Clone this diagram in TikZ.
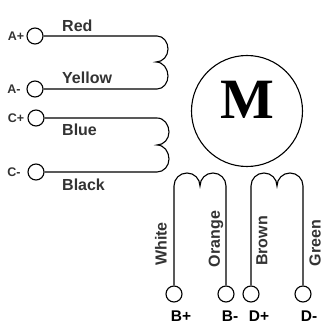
\documentclass[tikz,border=0pt]{standalone}
\usepackage{fontspec}
\setmainfont{Liberation Sans}
\newfontfamily\motorfont{Liberation Serif}
\definecolor{labelgray}{HTML}{333333}
\begin{document}
\begin{tikzpicture}
      [ x = 1pt, y = 1pt
      , terminal/.style =
        { draw, circle, minimum size = 16pt, inner sep = 0pt, line width = 1.1pt }
      , motor/.style =
        { draw, circle, minimum size = 111pt, inner sep = 0pt, line width = 1.1pt }
      , motorletter/.style =
        { font = \motorfont\bfseries\fontsize{57}{57}\selectfont, inner sep = 0pt }
      , wire/.style =
        { line width = 1.1pt }
      , wirelabel/.style =
        { font = \bfseries\fontsize{16}{16}\selectfont, text = labelgray, inner sep = 0pt }
      , sidepin/.style =
        { font = \bfseries\fontsize{12.5}{12.5}\selectfont, text = labelgray, inner sep = 0pt }
      , bottompin/.style =
        { font = \bfseries\fontsize{15.5}{15.5}\selectfont, inner sep = 0pt }
      ]
      \useasboundingbox (0, 0) rectangle (326, 327);
      % left terminals
      \node [terminal] (Ap) at (35, 291) {};
      \node [terminal] (Am) at (35, 238) {};
      \node [terminal] (Cp) at (36, 209) {};
      \node [terminal] (Cm) at (36, 155) {};
      % bottom terminals
      \node [terminal] (Bp) at (174, 33) {};
      \node [terminal] (Bm) at (226, 33) {};
      \node [terminal] (Dp) at (251, 33) {};
      \node [terminal] (Dm) at (303, 33) {};
      % motor
      \node [motor] (motor) at (247, 216) {};
      \node [motorletter] (motorM) at (247, 227) {M};
      % coil points
      \coordinate (a1) at (157, 291);
      \coordinate (a2) at (168, 278);
      \coordinate (a3) at (156, 265);
      \coordinate (a4) at (168, 251);
      \coordinate (a5) at (157, 238);
      \coordinate (c1) at (157, 209);
      \coordinate (c2) at (169, 195);
      \coordinate (c3) at (157, 182);
      \coordinate (c4) at (169, 168);
      \coordinate (c5) at (157, 155);
      \coordinate (b1) at (174, 141);
      \coordinate (b2) at (187, 154);
      \coordinate (b3) at (200, 141);
      \coordinate (b4) at (213, 154);
      \coordinate (b5) at (226, 141);
      \coordinate (d1) at (251, 141);
      \coordinate (d2) at (264, 154);
      \coordinate (d3) at (277, 141);
      \coordinate (d4) at (290, 154);
      \coordinate (d5) at (303, 141);
      % coils
      \draw [wire] (Ap) -- (a1) to [out=0,in=90] (a2) to [out=-90,in=0] (a3)
        to [out=0,in=90] (a4) to [out=-90,in=0] (a5) -- (Am);
      \draw [wire] (Cp) -- (c1) to [out=0,in=90] (c2) to [out=-90,in=0] (c3)
        to [out=0,in=90] (c4) to [out=-90,in=0] (c5) -- (Cm);
      \draw [wire] (Bp) -- (b1) to [out=90,in=180] (b2) to [out=0,in=90] (b3)
        to [out=90,in=180] (b4) to [out=0,in=90] (b5) -- (Bm);
      \draw [wire] (Dp) -- (d1) to [out=90,in=180] (d2) to [out=0,in=90] (d3)
        to [out=90,in=180] (d4) to [out=0,in=90] (d5) -- (Dm);
      % wire colours
      \node [wirelabel, anchor=west] (red) at (62, 301) {Red};
      \node [wirelabel, anchor=west] (yellow) at (62, 249) {Yellow};
      \node [wirelabel, anchor=west] (blue) at (62, 197) {Blue};
      \node [wirelabel, anchor=west] (black) at (62, 142) {Black};
      \node [wirelabel, rotate=90] (white) at (161, 83) {White};
      \node [wirelabel, rotate=90] (orange) at (216, 88) {Orange};
      \node [wirelabel, rotate=90] (brown) at (262, 86) {Brown};
      \node [wirelabel, rotate=90] (green) at (315, 84) {Green};
      % pin names
      \node [sidepin] (Aplabel) at (16, 291) {A+};
      \node [sidepin] (Amlabel) at (14, 238) {A-};
      \node [sidepin] (Cplabel) at (16, 209) {C+};
      \node [sidepin] (Cmlabel) at (14, 155) {C-};
      \node [bottompin] (Bplabel) at (181, 11) {B+};
      \node [bottompin] (Bmlabel) at (230, 11) {B-};
      \node [bottompin] (Dplabel) at (259, 11) {D+};
      \node [bottompin] (Dmlabel) at (309, 11) {D-};
\end{tikzpicture}
\end{document}
